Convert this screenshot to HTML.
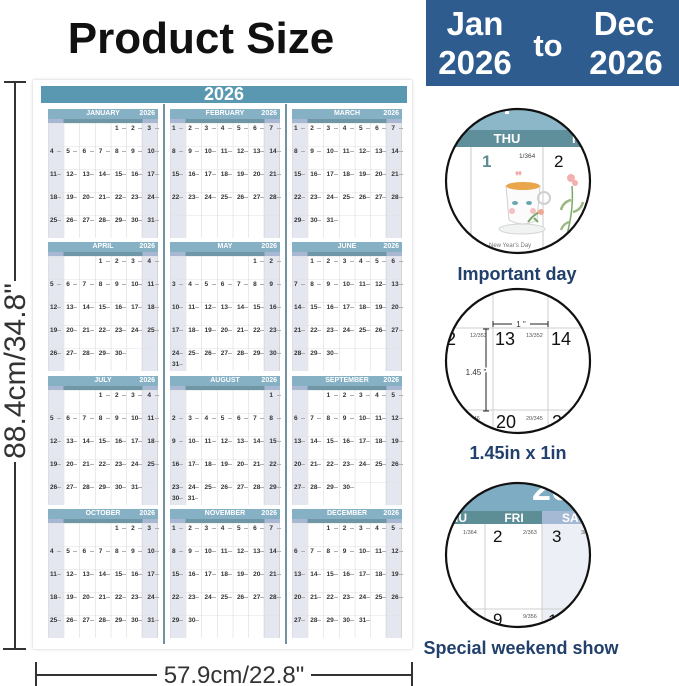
<!DOCTYPE html>
<html><head><meta charset="utf-8"><style>
*{margin:0;padding:0;box-sizing:border-box}
body{width:679px;height:686px;position:relative;background:#fff;overflow:hidden;font-family:"Liberation Sans",sans-serif}
svg.bg{position:absolute;left:0;top:0}
.poster{position:absolute;left:33px;top:80px;width:379px;height:569px;background:#fff;box-shadow:0 0 3px rgba(0,0,0,.22)}
.yr{position:absolute;left:41px;top:86px;width:366px;height:17px;background:#5a97b1;color:#fff;font:bold 18px/17px "Liberation Sans",sans-serif;text-align:center}
.dv{position:absolute;top:104px;width:1.5px;height:540px;background:#7392a0}
.m{position:absolute;width:110px}
.t{height:10px;background:#86b0c4;color:#fff;font:bold 7px/10px "Liberation Sans",sans-serif;text-align:center;position:relative}
.t span{position:absolute;right:3px;top:0}
.h{height:4px;background:linear-gradient(to right,#a8b8d2 0,#a8b8d2 14.3%,#6f97a5 14.3%,#6f97a5 85.7%,#a8b8d2 85.7%)}
.g{position:relative;display:grid;grid-template-columns:repeat(7,1fr);grid-auto-rows:23px;height:115px;
background-image:linear-gradient(to right,#d4d4d4 0.7px,transparent 0.7px),linear-gradient(to bottom,#e2e2e2 0.7px,transparent 0.7px),linear-gradient(to right,#e4e7ef 0,#e4e7ef 14.3%,#fff 14.3%,#fff 85.7%,#e4e7ef 85.7%);
background-size:15.714px 100%,100% 23px,100% 100%;border-right:0.7px solid #d4d4d4}
.g b{display:flex;justify-content:space-between;align-items:flex-start;font:bold 6.5px/1 "Liberation Sans",sans-serif;color:#333;padding:3px 3px 0 2px}
.g b::after{content:"";width:4px;height:1px;background:#b0b0b0;margin-top:2px}
.g b.x{position:absolute;top:103px;width:15.714px;height:12px}
</style></head><body>
<svg class="bg" width="679" height="686" viewBox="0 0 679 686" font-family="Liberation Sans, sans-serif">
<defs>
<clipPath id="c1"><circle cx="518" cy="181" r="72"/></clipPath>
<clipPath id="c2"><circle cx="518" cy="361" r="72"/></clipPath>
<clipPath id="c3"><circle cx="518" cy="555" r="72"/></clipPath>
</defs>
<text x="201" y="53" text-anchor="middle" font-weight="bold" font-size="44" fill="#111">Product Size</text>
<g stroke="#333" stroke-width="2">
<line x1="15" y1="82" x2="15" y2="281"/>
<line x1="15" y1="462" x2="15" y2="649"/>
<line x1="4" y1="82" x2="26" y2="82"/>
<line x1="3" y1="649" x2="26" y2="649"/>
<line x1="36" y1="675" x2="157" y2="675"/>
<line x1="311" y1="675" x2="412" y2="675"/>
<line x1="36" y1="662" x2="36" y2="687"/>
<line x1="412" y1="662" x2="412" y2="687"/>
</g>
<text transform="translate(25,371) rotate(-90)" text-anchor="middle" font-size="30" fill="#333">88.4cm/34.8"</text>
<text x="234" y="683" text-anchor="middle" font-size="24" fill="#333">57.9cm/22.8"</text>

<rect x="426" y="0" width="253" height="86" fill="#2f5c8f"/>
<g fill="#fff" font-weight="bold" font-size="33" text-anchor="middle">
<text x="475" y="35">Jan</text>
<text x="475" y="74">2026</text>
<text x="548" y="56" font-size="31">to</text>
<text x="624" y="35">Dec</text>
<text x="626" y="74">2026</text>
</g>

<!-- circle 1 -->
<g clip-path="url(#c1)">
<rect x="440" y="105" width="160" height="26" fill="#8cb7c9"/>
<rect x="505" y="111" width="4" height="3" fill="#fff"/>
<rect x="440" y="130" width="160" height="17" fill="#5f8f9b"/>
<rect x="440" y="147" width="160" height="110" fill="#fff"/>
<line x1="471" y1="147" x2="471" y2="260" stroke="#c8c8c8"/>
<line x1="543" y1="147" x2="543" y2="260" stroke="#c8c8c8"/>
<text x="507" y="143" text-anchor="middle" font-weight="bold" font-size="13" fill="#fff">THU</text>
<text x="572" y="143" font-weight="bold" font-size="13" fill="#fff">FRI</text>
<text x="482" y="167" font-size="17" font-weight="bold" fill="#5e8c92">1</text>
<text x="519" y="158" font-size="6.5" fill="#444">1/364</text>
<text x="554" y="167" font-size="17" fill="#111">2</text>
<path d="M517 176 q-3 -4 0 -5 q3 1 0 5 z M520 176 q3 -4 0 -5 q-3 1 0 5z" fill="#f2a7a7"/>
<ellipse cx="522" cy="229" rx="23" ry="5" fill="#f1f3f3" stroke="#d4d4d4"/>
<path d="M506 186 L540 186 L537 220 Q523 228 509 220 Z" fill="#fbfbfb" stroke="#cfcfcf"/>
<ellipse cx="523" cy="186" rx="17" ry="4" fill="#eaa64a"/>
<circle cx="544" cy="198" r="6" fill="none" stroke="#cfcfcf" stroke-width="2"/>
<ellipse cx="515" cy="203" rx="3" ry="2" fill="#6aa6b0"/>
<ellipse cx="529" cy="203" rx="3" ry="2" fill="#6aa6b0"/>
<circle cx="512" cy="211" r="3" fill="#f5c0c0"/>
<circle cx="533" cy="211" r="3" fill="#f5c0c0"/>
<path d="M528 222 q6 -8 12 -10 M534 218 l4 4" stroke="#7ea86a" stroke-width="2" fill="none"/>
<circle cx="541" cy="212" r="3" fill="#f2a890"/>
<circle cx="571" cy="178" r="4" fill="#f2b0b0"/>
<circle cx="575" cy="183" r="3" fill="#f2b0b0"/>
<path d="M572 186 Q574 210 566 238" stroke="#7ea86a" stroke-width="1.5" fill="none"/>
<path d="M571 200 q-8 2 -10 10 M573 212 q8 -2 10 -10 M569 222 q-6 2 -8 8" stroke="#9ab880" stroke-width="2.5" fill="none"/>
<text x="489" y="247" font-size="6" fill="#777">New Year's Day</text>
</g>
<circle cx="518" cy="181" r="72" fill="none" stroke="#111" stroke-width="2.2"/>
<text x="517" y="280" text-anchor="middle" font-weight="bold" font-size="18" fill="#22406c">Important day</text>

<!-- circle 2 -->
<g clip-path="url(#c2)">
<rect x="440" y="285" width="160" height="160" fill="#fff"/>
<g stroke="#cfcfcf" stroke-width="1">
<line x1="493" y1="285" x2="493" y2="440"/>
<line x1="548" y1="285" x2="548" y2="440"/>
<line x1="440" y1="328" x2="600" y2="328"/>
<line x1="440" y1="410" x2="600" y2="410"/>
</g>
<text x="446" y="345" font-size="18" fill="#111">2</text>
<text x="470" y="337" font-size="5.5" fill="#555">12/353</text>
<text x="495" y="345" font-size="18" fill="#111">13</text>
<text x="526" y="337" font-size="5.5" fill="#555">13/352</text>
<text x="551" y="345" font-size="18" fill="#111">14</text>
<text x="463" y="420" font-size="5.5" fill="#555">20/346</text>
<text x="496" y="428" font-size="18" fill="#111">20</text>
<text x="526" y="420" font-size="5.5" fill="#555">20/345</text>
<text x="552" y="428" font-size="18" fill="#111">2</text>
<g stroke="#222" stroke-width="1">
<line x1="486" y1="329" x2="486" y2="411"/>
<line x1="483" y1="329" x2="489" y2="329"/>
<line x1="483" y1="411" x2="489" y2="411"/>
<line x1="493" y1="324" x2="512" y2="324"/>
<line x1="530" y1="324" x2="548" y2="324"/>
<line x1="493" y1="321" x2="493" y2="327"/>
<line x1="548" y1="321" x2="548" y2="327"/>
</g>
<text x="521" y="327" text-anchor="middle" font-size="8" fill="#333">1 "</text>
<text x="476" y="375" text-anchor="middle" font-size="8" fill="#333" stroke="#fff" stroke-width="3" paint-order="stroke">1.45 "</text>
</g>
<circle cx="518" cy="361" r="72" fill="none" stroke="#111" stroke-width="2.2"/>
<text x="518" y="459" text-anchor="middle" font-weight="bold" font-size="18" fill="#22406c">1.45in x 1in</text>

<!-- circle 3 -->
<g clip-path="url(#c3)">
<rect x="440" y="480" width="160" height="31" fill="#7eacc2"/>
<text x="532" y="500" font-weight="bold" font-size="34" fill="#fff">2026</text>
<rect x="440" y="511" width="102" height="13" fill="#5d8e96"/>
<rect x="542" y="511" width="60" height="13" fill="#a6b9d4"/>
<rect x="440" y="524" width="102" height="110" fill="#fff"/>
<rect x="542" y="524" width="60" height="110" fill="#eceff5"/>
<text x="467" y="522" text-anchor="end" font-weight="bold" font-size="12" fill="#fff">THU</text>
<text x="514" y="522" text-anchor="middle" font-weight="bold" font-size="12" fill="#fff">FRI</text>
<text x="562" y="522" font-weight="bold" font-size="12" fill="#fff">SAT</text>
<g stroke="#cfcfcf">
<line x1="485" y1="524" x2="485" y2="630"/>
<line x1="542" y1="524" x2="542" y2="630"/>
<line x1="440" y1="609" x2="600" y2="609"/>
</g>
<text x="463" y="534" font-size="5.5" fill="#555">1/364</text>
<text x="493" y="542" font-size="17" fill="#111">2</text>
<text x="523" y="534" font-size="5.5" fill="#555">2/363</text>
<text x="552" y="542" font-size="17" fill="#111">3</text>
<text x="581" y="534" font-size="5.5" fill="#555">3/362</text>
<text x="462" y="604" font-size="5.5" fill="#888">ay</text>
<text x="493" y="625" font-size="17" fill="#111">9</text>
<text x="523" y="618" font-size="5.5" fill="#555">9/356</text>
<text x="548" y="626" font-size="17" fill="#111">10</text>
</g>
<circle cx="518" cy="555" r="72" fill="none" stroke="#111" stroke-width="2.2"/>
<text x="521" y="654" text-anchor="middle" font-weight="bold" font-size="18" fill="#22406c">Special weekend show</text>
</svg>

<div class="poster"></div>
<div class="yr">2026</div>
<div class="dv" style="left:163px"></div>
<div class="dv" style="left:285px"></div>

<div class="m" style="left:48px;top:109px"><div class="t">JANUARY<span>2026</span></div><div class="h"></div><div class="g"><b style="grid-column:5">1</b><b>2</b><b>3</b><b>4</b><b>5</b><b>6</b><b>7</b><b>8</b><b>9</b><b>10</b><b>11</b><b>12</b><b>13</b><b>14</b><b>15</b><b>16</b><b>17</b><b>18</b><b>19</b><b>20</b><b>21</b><b>22</b><b>23</b><b>24</b><b>25</b><b>26</b><b>27</b><b>28</b><b>29</b><b>30</b><b>31</b></div></div>

<div class="m" style="left:170px;top:109px"><div class="t">FEBRUARY<span>2026</span></div><div class="h"></div><div class="g"><b>1</b><b>2</b><b>3</b><b>4</b><b>5</b><b>6</b><b>7</b><b>8</b><b>9</b><b>10</b><b>11</b><b>12</b><b>13</b><b>14</b><b>15</b><b>16</b><b>17</b><b>18</b><b>19</b><b>20</b><b>21</b><b>22</b><b>23</b><b>24</b><b>25</b><b>26</b><b>27</b><b>28</b></div></div>

<div class="m" style="left:292px;top:109px"><div class="t">MARCH<span>2026</span></div><div class="h"></div><div class="g"><b>1</b><b>2</b><b>3</b><b>4</b><b>5</b><b>6</b><b>7</b><b>8</b><b>9</b><b>10</b><b>11</b><b>12</b><b>13</b><b>14</b><b>15</b><b>16</b><b>17</b><b>18</b><b>19</b><b>20</b><b>21</b><b>22</b><b>23</b><b>24</b><b>25</b><b>26</b><b>27</b><b>28</b><b>29</b><b>30</b><b>31</b></div></div>

<div class="m" style="left:48px;top:242px"><div class="t">APRIL<span>2026</span></div><div class="h"></div><div class="g"><b style="grid-column:4">1</b><b>2</b><b>3</b><b>4</b><b>5</b><b>6</b><b>7</b><b>8</b><b>9</b><b>10</b><b>11</b><b>12</b><b>13</b><b>14</b><b>15</b><b>16</b><b>17</b><b>18</b><b>19</b><b>20</b><b>21</b><b>22</b><b>23</b><b>24</b><b>25</b><b>26</b><b>27</b><b>28</b><b>29</b><b>30</b></div></div>

<div class="m" style="left:170px;top:242px"><div class="t">MAY<span>2026</span></div><div class="h"></div><div class="g"><b style="grid-column:6">1</b><b>2</b><b>3</b><b>4</b><b>5</b><b>6</b><b>7</b><b>8</b><b>9</b><b>10</b><b>11</b><b>12</b><b>13</b><b>14</b><b>15</b><b>16</b><b>17</b><b>18</b><b>19</b><b>20</b><b>21</b><b>22</b><b>23</b><b>24</b><b>25</b><b>26</b><b>27</b><b>28</b><b>29</b><b>30</b><b class="x" style="left:0">31</b></div></div>

<div class="m" style="left:292px;top:242px"><div class="t">JUNE<span>2026</span></div><div class="h"></div><div class="g"><b style="grid-column:2">1</b><b>2</b><b>3</b><b>4</b><b>5</b><b>6</b><b>7</b><b>8</b><b>9</b><b>10</b><b>11</b><b>12</b><b>13</b><b>14</b><b>15</b><b>16</b><b>17</b><b>18</b><b>19</b><b>20</b><b>21</b><b>22</b><b>23</b><b>24</b><b>25</b><b>26</b><b>27</b><b>28</b><b>29</b><b>30</b></div></div>

<div class="m" style="left:48px;top:376px"><div class="t">JULY<span>2026</span></div><div class="h"></div><div class="g"><b style="grid-column:4">1</b><b>2</b><b>3</b><b>4</b><b>5</b><b>6</b><b>7</b><b>8</b><b>9</b><b>10</b><b>11</b><b>12</b><b>13</b><b>14</b><b>15</b><b>16</b><b>17</b><b>18</b><b>19</b><b>20</b><b>21</b><b>22</b><b>23</b><b>24</b><b>25</b><b>26</b><b>27</b><b>28</b><b>29</b><b>30</b><b>31</b></div></div>

<div class="m" style="left:170px;top:376px"><div class="t">AUGUST<span>2026</span></div><div class="h"></div><div class="g"><b style="grid-column:7">1</b><b>2</b><b>3</b><b>4</b><b>5</b><b>6</b><b>7</b><b>8</b><b>9</b><b>10</b><b>11</b><b>12</b><b>13</b><b>14</b><b>15</b><b>16</b><b>17</b><b>18</b><b>19</b><b>20</b><b>21</b><b>22</b><b>23</b><b>24</b><b>25</b><b>26</b><b>27</b><b>28</b><b>29</b><b class="x" style="left:0">30</b><b class="x" style="left:15.714px">31</b></div></div>

<div class="m" style="left:292px;top:376px"><div class="t">SEPTEMBER<span>2026</span></div><div class="h"></div><div class="g"><b style="grid-column:3">1</b><b>2</b><b>3</b><b>4</b><b>5</b><b>6</b><b>7</b><b>8</b><b>9</b><b>10</b><b>11</b><b>12</b><b>13</b><b>14</b><b>15</b><b>16</b><b>17</b><b>18</b><b>19</b><b>20</b><b>21</b><b>22</b><b>23</b><b>24</b><b>25</b><b>26</b><b>27</b><b>28</b><b>29</b><b>30</b></div></div>

<div class="m" style="left:48px;top:509px"><div class="t">OCTOBER<span>2026</span></div><div class="h"></div><div class="g"><b style="grid-column:5">1</b><b>2</b><b>3</b><b>4</b><b>5</b><b>6</b><b>7</b><b>8</b><b>9</b><b>10</b><b>11</b><b>12</b><b>13</b><b>14</b><b>15</b><b>16</b><b>17</b><b>18</b><b>19</b><b>20</b><b>21</b><b>22</b><b>23</b><b>24</b><b>25</b><b>26</b><b>27</b><b>28</b><b>29</b><b>30</b><b>31</b></div></div>

<div class="m" style="left:170px;top:509px"><div class="t">NOVEMBER<span>2026</span></div><div class="h"></div><div class="g"><b>1</b><b>2</b><b>3</b><b>4</b><b>5</b><b>6</b><b>7</b><b>8</b><b>9</b><b>10</b><b>11</b><b>12</b><b>13</b><b>14</b><b>15</b><b>16</b><b>17</b><b>18</b><b>19</b><b>20</b><b>21</b><b>22</b><b>23</b><b>24</b><b>25</b><b>26</b><b>27</b><b>28</b><b>29</b><b>30</b></div></div>

<div class="m" style="left:292px;top:509px"><div class="t">DECEMBER<span>2026</span></div><div class="h"></div><div class="g"><b style="grid-column:3">1</b><b>2</b><b>3</b><b>4</b><b>5</b><b>6</b><b>7</b><b>8</b><b>9</b><b>10</b><b>11</b><b>12</b><b>13</b><b>14</b><b>15</b><b>16</b><b>17</b><b>18</b><b>19</b><b>20</b><b>21</b><b>22</b><b>23</b><b>24</b><b>25</b><b>26</b><b>27</b><b>28</b><b>29</b><b>30</b><b>31</b></div></div>
</body></html>
